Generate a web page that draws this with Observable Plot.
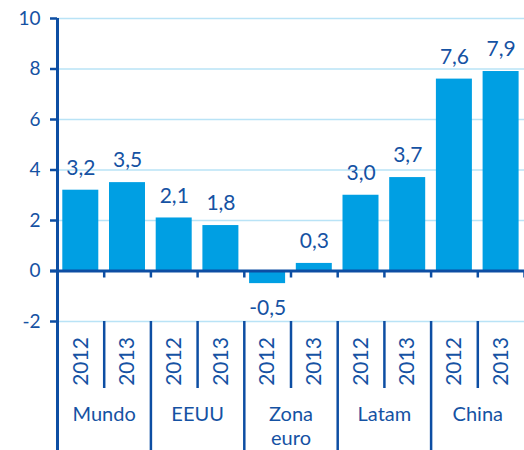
<!DOCTYPE html>
<html>
<head>
<meta charset="utf-8">
<script src="https://cdn.jsdelivr.net/npm/d3@7"></script>
<script src="https://cdn.jsdelivr.net/npm/@observablehq/plot@0.6"></script>
<style>
  html, body { margin: 0; padding: 0; background: #fff; }
  #chart svg { display: block; }
</style>
</head>
<body>
<div id="chart"></div>
<script>
// ---- data ----
const groups = ["Mundo", "EEUU", "Zona\neuro", "Latam", "China"];
const years = ["2012", "2013"];
const v2012 = [3.2, 2.1, -0.5, 3.0, 7.6];
const v2013 = [3.5, 1.8, 0.3, 3.7, 7.9];
const yTicks = [-2, 0, 2, 4, 6, 8, 10];

// ---- derived table ----
const rows = [];
groups.forEach((g, gi) => {
  [v2012[gi], v2013[gi]].forEach((v, yi) => {
    rows.push({group: g, year: years[yi], value: v, slot: gi * years.length + yi});
  });
});
const nSlots = rows.length;
const groupStarts = groups.map((g, gi) => gi * years.length);           // 0,2,4,6,8
const yearBounds = rows.filter(r => r.year === years[1]).map(r => r.slot); // 1,3,5,7,9
const allBounds = d3.range(1, nSlots + 1);
const groupLabels = groups.map((g, gi) => ({group: g, mid: gi * years.length + years.length / 2}));
const yMin = yTicks[0], yMax = yTicks[yTicks.length - 1];

const dark = "#0d4ea3";
const textCol = "#1552a3";
const barCol = "#009fe3";
const gridCol = "#b9e3f6";
const fmt = v => d3.format(".1f")(v).replace(".", ",").replace("\u2212", "-");

const chart = Plot.plot({
  width: 524,
  height: 450,
  marginLeft: 57,
  marginRight: 0,
  marginTop: 18,
  marginBottom: 129,
  style: {fontFamily: "Lato, 'Open Sans', sans-serif", background: "#fff", overflow: "visible"},
  x: {domain: [0, nSlots], axis: null},
  y: {domain: [yMin, yMax], axis: null},
  marks: [
    // gridlines
    Plot.ruleY(yTicks.filter(t => t !== 0), {stroke: gridCol, strokeWidth: 1.6}),
    // bars
    Plot.rectY(rows, {x1: "slot", x2: d => d.slot + 1, y1: 0, y2: "value", fill: barCol, insetLeft: 5.3, insetRight: 5.4}),
    // zero line
    Plot.ruleY([0], {stroke: dark, strokeWidth: 3, insetLeft: -7}),
    // small ticks under zero line
    Plot.ruleX(allBounds, {x: d => d, y1: 0, y2: 0, insetBottom: -7, stroke: dark, strokeWidth: 2.5}),
    // year separators
    Plot.ruleX(yearBounds, {x: d => d, y1: yMin, y2: yMin, insetBottom: -67, stroke: dark, strokeWidth: 2.5}),
    // group separators (not the axis)
    Plot.ruleX(groupStarts.filter(s => s > 0), {x: d => d, y1: yMin, y2: yMin, insetBottom: -129, stroke: dark, strokeWidth: 2.5}),
    // y axis line
    Plot.ruleX([0], {y1: yMax, y2: yMin, insetBottom: -129, stroke: dark, strokeWidth: 3}),
    // y axis ticks & labels
    Plot.axisY({ticks: yTicks, tickSize: 7, tickPadding: 10, tickFormat: d => String(d),
      fontSize: 19, stroke: dark, strokeWidth: 2.5, fill: textCol, label: null}),
    // value labels
    Plot.text(rows.filter(r => r.value >= 0), {x: d => d.slot + 0.5, y: "value", text: d => fmt(d.value),
      dy: -22, fontSize: 21, fill: textCol, lineAnchor: "middle"}),
    Plot.text(rows.filter(r => r.value < 0), {x: d => d.slot + 0.5, y: "value", text: d => fmt(d.value),
      dy: 25, fontSize: 21, fill: textCol, lineAnchor: "middle"}),
    // year labels
    Plot.text(rows, {x: d => d.slot + 0.5, y: yMin, text: "year", rotate: -90, dy: 40,
      fontSize: 21, fill: textCol, textAnchor: "middle", lineAnchor: "middle"}),
    // group labels
    Plot.text(groupLabels, {x: "mid", y: yMin, text: "group", dy: 82, lineAnchor: "top",
      lineHeight: 1.2, fontSize: 20, fill: textCol})
  ]
});
document.getElementById("chart").appendChild(chart);
</script>
</body>
</html>
